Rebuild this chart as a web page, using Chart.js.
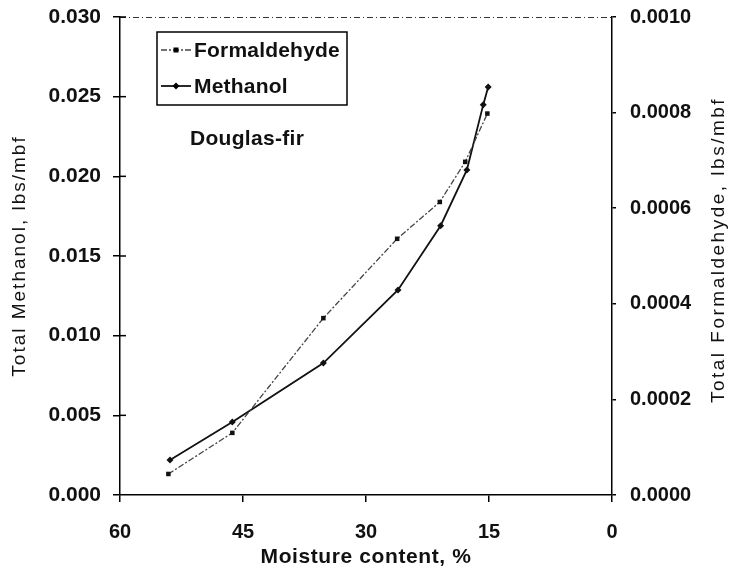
<!DOCTYPE html>
<html>
<head>
<meta charset="utf-8">
<script src="https://cdn.jsdelivr.net/npm/chart.js@4/dist/chart.umd.min.js"></script>
<style>
  html, body { margin: 0; padding: 0; background: #fff; }
  #wrap { width: 734px; height: 573px; }
</style>
</head>
<body>
<div id="wrap"><canvas id="chart" width="734" height="573"></canvas></div>
<script>
// moisture content, %
const formMoisture = [54.1, 46.3, 35.2, 26.2, 21.0, 17.9, 15.2]
const formaldehyde = [0.000044, 0.00013, 0.00037, 0.000536, 0.000613, 0.000697, 0.000798]
const methMoisture = [53.9, 46.3, 35.2, 26.1, 20.9, 17.7, 15.7, 15.1]
const methanol = [0.0022, 0.00458, 0.00828, 0.01287, 0.0169, 0.0204, 0.0245, 0.0256]

const xTicks = [60, 45, 30, 15, 0]
const leftTicks = ['0.000', '0.005', '0.010', '0.015', '0.020', '0.025', '0.030']
const rightTicks = ['0.0000', '0.0002', '0.0004', '0.0006', '0.0008', '0.0010']

const xTitle = 'Moisture content, %'
const leftTitle = 'Total Methanol, lbs/mbf'
const rightTitle = 'Total Formaldehyde, lbs/mbf'
const species = 'Douglas-fir'

const fontFam = '"Liberation Sans", Arial, sans-serif'

function pts(xs, ys) {
    return xs.map((x, i) => ({x: x, y: ys[i]}))
}

function spaced(ctx, text, x, y, spacing) {
    if ('letterSpacing' in ctx) {
        ctx.letterSpacing = spacing + 'px'
        ctx.fillText(text, x, y)
        ctx.letterSpacing = '0px'
    } else {
        ctx.fillText(text, x, y)
    }
}

function fixY(width) {
    return (s) => {
        s.width = width
        s.paddingTop = 0
        s.paddingBottom = 0
    }
}

const overlay = {
    id: 'overlay',
    afterDraw(chart) {
        const ctx = chart.ctx
        const a = chart.chartArea
        ctx.save()
        // dashed top border
        ctx.strokeStyle = '#333'
        ctx.lineWidth = 1
        ctx.setLineDash([6, 3, 1, 3])
        ctx.beginPath()
        ctx.moveTo(a.left, a.top + 0.5)
        ctx.lineTo(a.right, a.top + 0.5)
        ctx.stroke()
        ctx.setLineDash([])

        // left axis ticks crossing inside
        const yl = chart.scales.y
        ctx.strokeStyle = '#000'
        ctx.lineWidth = 1.5
        for (let i = 1; i < leftTicks.length; i++) {
            const py = yl.getPixelForValue(parseFloat(leftTicks[i]))
            ctx.beginPath()
            ctx.moveTo(a.left, py)
            ctx.lineTo(a.left + 6, py)
            ctx.stroke()
        }

        // axis titles
        ctx.fillStyle = '#111'
        ctx.textAlign = 'center'
        ctx.textBaseline = 'middle'
        ctx.font = 'bold 21px ' + fontFam
        spaced(ctx, xTitle, (a.left + a.right) / 2, 557, 0.6)

        ctx.font = '19px ' + fontFam
        ctx.save()
        ctx.translate(20, 256)
        ctx.rotate(-Math.PI / 2)
        spaced(ctx, leftTitle, 0, 0, 2)
        ctx.restore()

        ctx.save()
        ctx.translate(719, 250)
        ctx.rotate(-Math.PI / 2)
        spaced(ctx, rightTitle, 0, 0, 2.5)
        ctx.restore()

        // legend box
        ctx.textAlign = 'left'
        const lx = 157, ly = 32, lw = 190, lh = 73
        ctx.lineWidth = 1.5
        ctx.strokeStyle = '#000'
        ctx.strokeRect(lx, ly, lw, lh)
        const items = chart.data.datasets
        ctx.font = 'bold 21px ' + fontFam
        items.forEach((ds, i) => {
            const cy = ly + 18 + i * 36
            ctx.strokeStyle = ds.borderColor
            ctx.lineWidth = ds.borderWidth
            ctx.setLineDash(ds.borderDash || [])
            ctx.beginPath()
            ctx.moveTo(lx + 4, cy)
            ctx.lineTo(lx + 34, cy)
            ctx.stroke()
            ctx.setLineDash([])
            ctx.fillStyle = '#000'
            if (ds.pointStyle === 'rectRot') {
                ctx.beginPath()
                ctx.moveTo(lx + 19, cy - 3.5)
                ctx.lineTo(lx + 22.5, cy)
                ctx.lineTo(lx + 19, cy + 3.5)
                ctx.lineTo(lx + 15.5, cy)
                ctx.closePath()
                ctx.fill()
            } else {
                ctx.fillRect(lx + 16.5, cy - 2.5, 5, 5)
            }
            ctx.fillStyle = '#111'
            spaced(ctx, ds.label, lx + 37, cy + 1, 0.2)
        })

        // species label
        ctx.font = 'bold 21px ' + fontFam
        ctx.fillStyle = '#111'
        spaced(ctx, species, 190, 139, 0.3)
        ctx.restore()
    }
}

const ctxChart = document.getElementById('chart')

new Chart(ctxChart, {
    type: 'scatter',
    data: {
        datasets: [{
            label: 'Formaldehyde',
            data: pts(formMoisture, formaldehyde),
            yAxisID: 'y1',
            showLine: true,
            borderColor: '#444',
            borderWidth: 1.3,
            borderDash: [6, 2, 2, 2],
            pointStyle: 'rect',
            pointRadius: 3.2,
            pointBackgroundColor: '#111',
            pointBorderColor: '#111',
            pointBorderWidth: 0
        }, {
            label: 'Methanol',
            data: pts(methMoisture, methanol),
            yAxisID: 'y',
            showLine: true,
            borderColor: '#111',
            borderWidth: 1.8,
            pointStyle: 'rectRot',
            pointRadius: 3.5,
            pointBackgroundColor: '#111',
            pointBorderColor: '#111',
            pointBorderWidth: 0
        }]
    },
    options: {
        responsive: false,
        animation: false,
        layout: {padding: {top: 17, bottom: 2, left: 0, right: 0}},
        plugins: {
            legend: {display: false},
            tooltip: {enabled: false}
        },
        scales: {
            x: {
                type: 'linear',
                reverse: true,
                min: 0,
                max: 60,
                afterBuildTicks: (s) => { s.ticks = xTicks.map(v => ({value: v})) },
                afterFit: (s) => { s.height = 76; s.paddingLeft = 0; s.paddingRight = 0 },
                ticks: {
                    color: '#111',
                    font: {family: fontFam, size: 20, weight: 'bold'},
                    padding: 18
                },
                grid: {display: true, drawOnChartArea: false, tickLength: 7, color: '#000', lineWidth: 1.5},
                border: {display: true, color: '#000', width: 1.5}
            },
            y: {
                position: 'left',
                min: 0,
                max: 0.03,
                afterBuildTicks: (s) => { s.ticks = leftTicks.map(v => ({value: parseFloat(v)})) },
                afterFit: fixY(120),
                ticks: {
                    color: '#111',
                    font: {family: fontFam, size: 21, weight: 'bold'},
                    padding: 12,
                    callback: (v, i) => leftTicks[i]
                },
                grid: {display: true, drawOnChartArea: false, tickLength: 7, color: '#000', lineWidth: 1.5},
                border: {display: true, color: '#000', width: 1.5}
            },
            y1: {
                position: 'right',
                min: 0,
                max: 0.001,
                afterBuildTicks: (s) => { s.ticks = rightTicks.map(v => ({value: parseFloat(v)})) },
                afterFit: fixY(122),
                ticks: {
                    color: '#111',
                    font: {family: fontFam, size: 20, weight: 'bold'},
                    padding: 14,
                    callback: (v, i) => rightTicks[i]
                },
                grid: {display: true, drawOnChartArea: false, tickLength: 4, color: '#000', lineWidth: 1.5},
                border: {display: true, color: '#000', width: 1.5}
            }
        }
    },
    plugins: [overlay]
})
</script>
</body>
</html>
